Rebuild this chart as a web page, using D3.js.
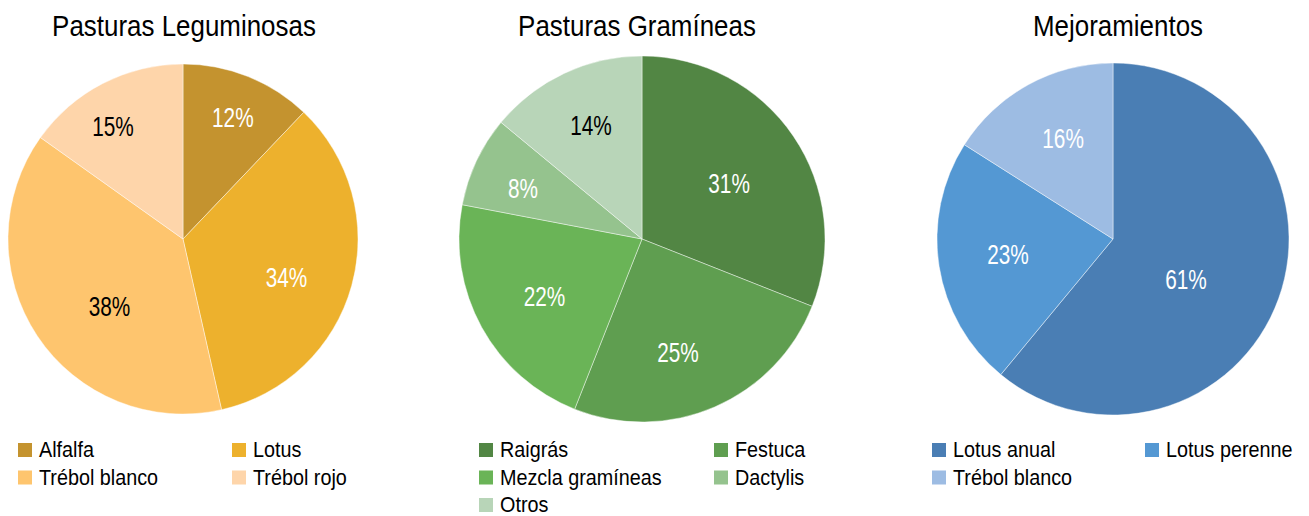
<!DOCTYPE html>
<html>
<head>
<meta charset="utf-8">
<script src="https://cdn.jsdelivr.net/npm/d3@7"></script>
<style>
  html, body { margin: 0; padding: 0; background: #fff; }
  svg { display: block; }
  text { font-family: "Liberation Sans", Arial, sans-serif; }
</style>
</head>
<body>
<svg id="chart" width="1309" height="516"></svg>
<script>
// Pasturas Leguminosas
const legCategories = ["Alfalfa", "Lotus", "Trébol blanco", "Trébol rojo"];
const legValues = [12, 34, 38, 15];
const legColors = ["#C4932F", "#EDB12D", "#FEC56E", "#FED5AA"];
const legLabelInk = ["#fff", "#fff", "#000", "#000"];

// Pasturas Gramíneas
const graCategories = ["Raigrás", "Festuca", "Mezcla gramíneas", "Dactylis", "Otros"];
const graValues = [31, 25, 22, 8, 14];
const graColors = ["#528644", "#5F9E50", "#6AB457", "#95C38E", "#B8D5B8"];
const graLabelInk = ["#fff", "#fff", "#fff", "#fff", "#000"];

// Mejoramientos
const mejCategories = ["Lotus anual", "Lotus perenne", "Trébol blanco"];
const mejValues = [61, 23, 16];
const mejColors = ["#4A7EB4", "#5498D3", "#9DBCE3"];
const mejLabelInk = ["#fff", "#fff", "#fff"];

const titles = ["Pasturas Leguminosas", "Pasturas Gramíneas", "Mejoramientos"];

const svg = d3.select("#chart");

// Layout per panel. labelFrac: distance of each percentage from the centre
// (fraction of the radius); labelTurn: small angular nudge in degrees.
const panels = [
  { title: titles[0], cats: legCategories, vals: legValues, colors: legColors, ink: legLabelInk,
    cx: 183, cy: 239, r: 175, titleX: 184,
    labelFrac: [0.75, 0.63, 0.57, 0.76], labelTurn: [0.5, 4.7, -8.9, -4.5],
    legendX: 18, legendColGap: 214 },
  { title: titles[1], cats: graCategories, vals: graValues, colors: graColors, ink: graLabelInk,
    cx: 642, cy: 239, r: 183, titleX: 637,
    labelFrac: [0.566, 0.648, 0.618, 0.708, 0.682], labelTurn: [1.4, 5.7, -1.7, -2, 1.1],
    legendX: 479, legendColGap: 235 },
  { title: titles[2], cats: mejCategories, vals: mejValues, colors: mejColors, ink: mejLabelInk,
    cx: 1113, cy: 239, r: 176, titleX: 1118,
    labelFrac: [0.473, 0.603, 0.64], labelTurn: [8.9, 0.9, 2.5],
    legendX: 932, legendColGap: 213 }
];

// Condensed lettering
const TITLE_SX = 0.865, LABEL_SX = 0.77, LEGEND_SX = 0.9;

const pie = d3.pie().sort(null).value(d => d);

panels.forEach(p => {
  const g = svg.append("g");

  g.append("text")
    .attr("transform", `translate(${p.titleX},36) scale(${TITLE_SX},1)`)
    .attr("text-anchor", "middle")
    .attr("font-size", 30)
    .attr("fill", "#000")
    .text(p.title);

  const arcs = pie(p.vals);
  const arc = d3.arc().innerRadius(0).outerRadius(p.r);

  const pg = g.append("g").attr("transform", `translate(${p.cx},${p.cy})`);

  pg.selectAll("path")
    .data(arcs)
    .join("path")
    .attr("d", arc)
    .attr("fill", (d, i) => p.colors[i])
    .attr("stroke", "rgba(255,255,255,0.55)")
    .attr("stroke-width", 0.8);

  pg.selectAll("text")
    .data(arcs)
    .join("text")
    .attr("transform", (d, i) => {
      const mid = (d.startAngle + d.endAngle) / 2 + p.labelTurn[i] * Math.PI / 180;
      const c = d3.pointRadial(mid, p.r * p.labelFrac[i]);
      return `translate(${c}) scale(${LABEL_SX},1)`;
    })
    .attr("text-anchor", "middle")
    .attr("dy", "0.36em")
    .attr("font-size", 27)
    .attr("fill", (d, i) => p.ink[i])
    .text(d => `${d.data}%`);

  // Legend: two columns, filled row by row
  const lg = g.append("g");
  const items = lg.selectAll("g")
    .data(p.cats)
    .join("g")
    .attr("transform", (d, i) => `translate(${p.legendX + (i % 2) * p.legendColGap},${443 + Math.floor(i / 2) * 27.5})`);

  items.append("rect")
    .attr("width", 14)
    .attr("height", 14)
    .attr("fill", (d, i) => p.colors[i]);

  items.append("text")
    .attr("transform", `translate(21,14) scale(${LEGEND_SX},1)`)
    .attr("font-size", 22)
    .attr("fill", "#000")
    .text(d => d);
});
</script>
</body>
</html>
